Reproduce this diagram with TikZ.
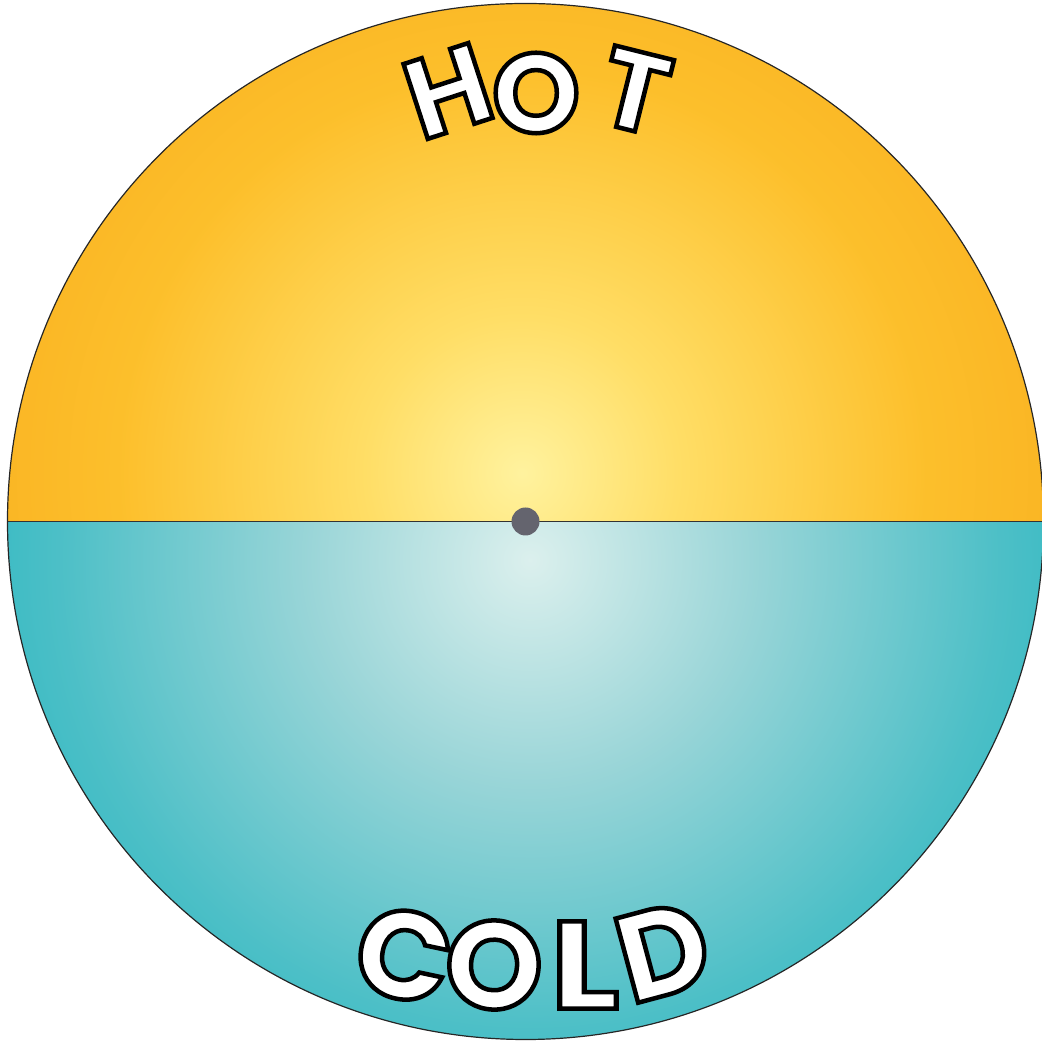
\documentclass[tikz,border=0pt]{standalone}
\usepackage{fontspec}
\newfontfamily\comicfont{Poppins}
\definecolor{dotgray}{RGB}{100,100,110}
\pgfdeclareradialshading{hotshade}{\pgfpoint{0bp}{0bp}}{rgb(0bp)=(1,0.95,0.62); rgb(7bp)=(1,0.87,0.40); rgb(18bp)=(0.99,0.75,0.17); rgb(30bp)=(0.97,0.67,0.11); rgb(50bp)=(0.96,0.63,0.09)}
\pgfdeclareradialshading{coldshade}{\pgfpoint{0bp}{0bp}}{rgb(0bp)=(0.86,0.94,0.93); rgb(10bp)=(0.60,0.835,0.845); rgb(21bp)=(0.30,0.75,0.78); rgb(30bp)=(0.11,0.705,0.745); rgb(50bp)=(0.06,0.675,0.715)}
\tikzset{
  hotletter/.style={inner sep=0pt, text=white, font=\comicfont\bfseries\fontsize{112}{112}\selectfont},
  coldletter/.style={inner sep=0pt, text=white, font=\comicfont\bfseries\fontsize{124}{124}\selectfont},
}
\newcommand{\outl}[1]{\special{pdf:literal direct 0 0 0 RG 2 Tr 4.5 w}#1\special{pdf:literal direct 0 Tr}}
\begin{document}
\begin{tikzpicture}[x=1pt,y=1pt]
\useasboundingbox (0,0) rectangle (1041,1043);
\coordinate (c) at (525.5,521.5);
\def\R{518}
% top half
\begin{scope}
  \clip (c) ++(-\R,0) arc[start angle=180,end angle=0,radius=\R] -- cycle;
  \shade[shading=hotshade] (522,570) circle (560);
\end{scope}
% bottom half
\begin{scope}
  \clip (c) ++(-\R,0) arc[start angle=180,end angle=360,radius=\R] -- cycle;
  \shade[shading=coldshade] (530,483) circle (560);
\end{scope}
\draw[line width=1.2pt, black!85] (c) circle (\R);
\coordinate (l) at (7.5,521.5);
\coordinate (r) at (1043.5,521.5);
\draw[line width=1.4pt, black!80] (l) -- (r);
\fill[dotgray] (c) circle (14);
% HOT
\node[hotletter, rotate=18] (h1) at (448,952) {\outl{H}};
\node[hotletter, rotate=0] (h2) at (536,950) {\outl{O}};
\node[hotletter, rotate=-14] (h3) at (635,952) {\outl{T}};
% COLD
\node[coldletter, rotate=-12] (c1) at (404,88) {\outl{C}};
\node[coldletter, rotate=-3] (c2) at (494,78) {\outl{O}};
\node[coldletter, rotate=0, xscale=1.15] (c3) at (585,78) {\outl{L}};
\node[coldletter, rotate=15] (c4) at (663,92) {\outl{D}};
\end{tikzpicture}
\end{document}
